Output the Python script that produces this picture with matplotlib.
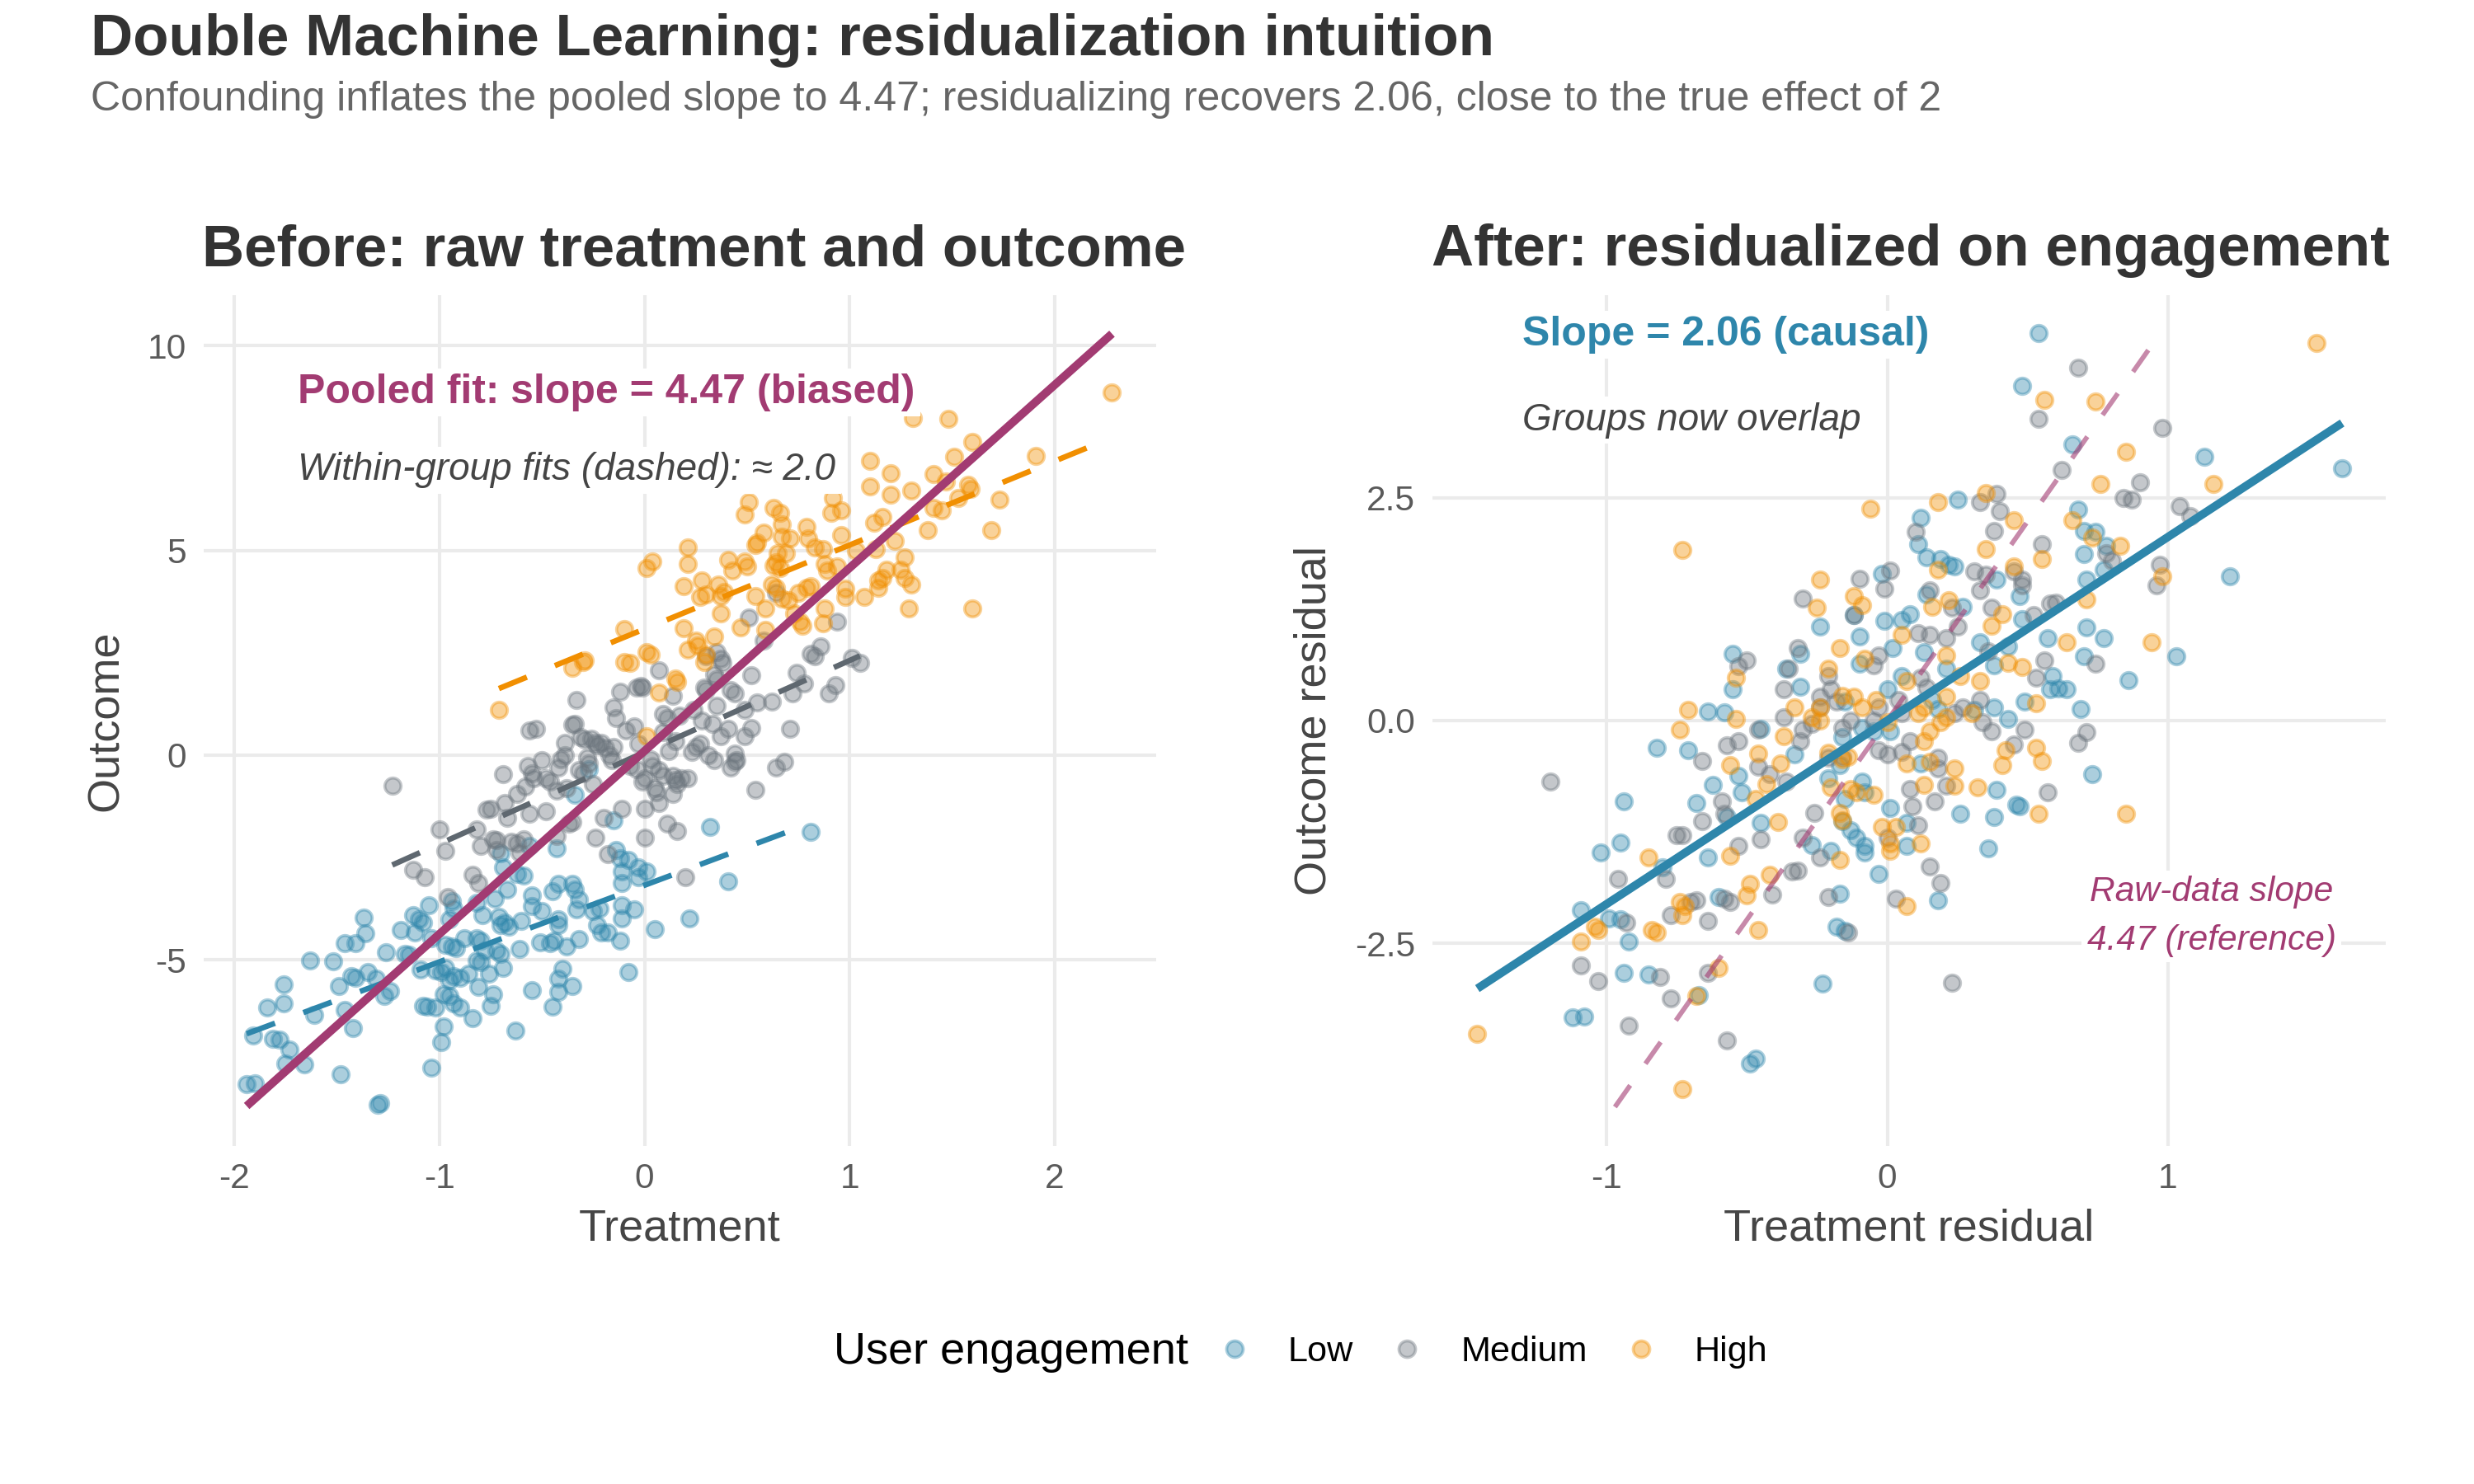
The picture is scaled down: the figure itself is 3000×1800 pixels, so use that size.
import numpy as np
import matplotlib
matplotlib.use("Agg")
import matplotlib.pyplot as plt
from matplotlib.lines import Line2D

plt.rcParams['font.family'] = ['Liberation Sans', 'DejaVu Sans']

# colours
col_low = '#2E86AB'
col_med = '#6C757D'
col_high = '#F18F01'
col_pool = '#A23B72'

groups = ['Low', 'Medium', 'High']

# ---- raw data (treatment, outcome) ----
low_raw = [(-1.94, -8.03), (-1.90, -8.01), (-1.91, -6.84), (-1.81, -6.93), (-1.78, -6.95), (-1.73, -7.20),
           (-1.75, -7.53), (-1.66, -7.55), (-1.84, -6.16), (-1.76, -6.06), (-1.76, -5.61), (-1.63, -5.02),
           (-1.52, -5.04), (-1.61, -6.34), (-1.46, -4.60), (-1.41, -4.60), (-1.37, -3.96), (-1.36, -4.35),
           (-1.49, -5.64), (-1.43, -5.40), (-1.41, -5.44), (-1.35, -5.30), (-1.31, -5.46), (-1.46, -6.23),
           (-1.42, -6.66), (-1.48, -7.79), (-1.30, -8.55), (-1.29, -8.50), (-1.27, -5.89), (-1.24, -5.76),
           (-1.26, -4.81), (-1.19, -4.28), (-1.17, -4.85), (-1.15, -4.88), (-1.12, -4.33), (-1.13, -3.91),
           (-1.10, -4.02), (-1.08, -4.09), (-1.05, -3.66), (-1.04, -4.47), (-1.09, -5.23), (-1.08, -6.13),
           (-1.06, -6.15), (-1.02, -6.16), (-0.98, -6.63), (-0.99, -7.02), (-1.04, -7.64), (-0.94, -3.57),
           (-0.93, -3.74), (-0.95, -4.02), (-0.97, -4.64), (-0.94, -4.67), (-0.92, -4.71), (-0.88, -4.47),
           (-1.02, -5.26), (-0.99, -5.30), (-0.97, -5.19), (-0.95, -5.50), (-0.93, -5.40), (-0.90, -5.44),
           (-0.98, -5.85), (-0.95, -5.89), (-0.93, -6.06), (-0.90, -6.16), (-0.86, -5.33), (-0.84, -6.42),
           (-0.82, -3.60), (-0.79, -3.91), (-0.82, -4.47), (-0.80, -4.54), (-0.82, -5.02), (-0.80, -5.06),
           (-0.78, -4.78), (-0.81, -5.66), (-0.76, -5.33), (-0.74, -5.85), (-0.75, -6.13), (-0.73, -3.50),
           (-0.71, -3.95), (-0.70, -4.16), (-0.72, -4.78), (-0.70, -4.85), (-0.69, -5.19), (-0.67, -3.29),
           (-0.68, -4.09), (-0.66, -4.19), (-0.61, -4.74), (-0.60, -4.05), (-0.63, -6.72), (-0.70, -2.39),
           (-0.69, -2.74), (-0.62, -2.91), (-0.59, -2.94), (-0.56, -2.22), (-0.55, -3.43), (-0.55, -3.68),
           (-0.50, -3.81), (-0.51, -4.57), (-0.46, -4.60), (-0.44, -4.54), (-0.43, -2.27), (-0.45, -3.32),
           (-0.42, -3.15), (-0.38, -4.67), (-0.42, -4.02), (-0.42, -4.16), (-0.35, -3.15), (-0.34, -3.29),
           (-0.32, -3.53), (-0.33, -3.77), (-0.32, -4.50), (-0.40, -5.21), (-0.42, -5.47), (-0.35, -5.64),
           (-0.42, -5.78), (-0.55, -5.75), (-0.45, -6.15), (-0.34, -0.97), (-0.27, -0.35), (-0.25, -3.81),
           (-0.22, -3.74), (-0.23, -4.16), (-0.21, -4.33), (-0.18, -4.33), (-0.12, -4.54), (-0.14, -2.32),
           (-0.15, -1.59), (-0.12, -2.53), (-0.08, -2.56), (-0.11, -2.84), (-0.11, -3.12), (-0.03, -2.74),
           (0.01, -2.84), (-0.03, -2.98), (-0.11, -3.67), (-0.11, -3.98), (-0.05, -3.77), (-0.08, -5.30),
           (0.05, -4.25), (0.22, -4.00), (0.32, -1.75), (0.41, -3.08), (0.81, -1.88)]

med_raw = [(-1.23, -0.75), (-1.13, -2.80), (-1.07, -2.98), (-1.00, -1.81), (-0.97, -2.33), (-0.96, -3.46),
           (-0.84, -2.92), (-0.81, -3.12), (-0.82, -1.81), (-0.80, -2.21), (-0.77, -1.34), (-0.75, -1.31),
           (-0.74, -2.05), (-0.72, -2.08), (-0.68, -1.17), (-0.69, -0.47), (-0.67, -1.54), (-0.72, -2.32),
           (-0.65, -2.11), (-0.62, -2.15), (-0.59, -2.05), (-0.61, -2.38), (-0.62, -0.94), (-0.58, -0.77),
           (-0.57, -0.27), (-0.55, -0.44), (-0.54, -0.57), (-0.56, 0.60), (-0.53, 0.64), (-0.56, -1.44),
           (-0.50, -0.13), (-0.48, -1.38), (-0.48, -0.57), (-0.46, -0.64), (-0.43, -0.87), (-0.43, -1.98),
           (-0.41, -0.10), (-0.39, 0.00), (-0.39, 0.30), (-0.42, -0.30), (-0.35, 0.74), (-0.34, 0.77),
           (-0.38, -0.81), (-0.37, -1.68), (-0.35, -1.64), (-0.33, 1.34), (-0.31, 0.44), (-0.29, 0.37),
           (-0.32, -0.37), (-0.30, -0.44), (-0.28, -0.07), (-0.27, -0.20), (-0.26, 0.40), (-0.24, 0.30),
           (-0.23, 0.23), (-0.21, 0.30), (-0.19, 0.17), (-0.25, -0.70), (-0.24, -2.01), (-0.20, -1.54),
           (-0.18, -2.42), (-0.17, 0.00), (-0.16, -0.13), (-0.15, 1.17), (-0.14, 0.91), (-0.15, 0.20),
           (-0.12, 1.54), (-0.11, -1.31), (-0.09, 0.60), (-0.05, 0.70), (-0.04, 1.64), (-0.02, 1.68),
           (-0.01, 1.64), (-0.07, -0.27), (-0.04, -0.34), (-0.03, 0.27), (-0.01, -0.64), (0.00, -0.57),
           (0.00, -1.31), (0.00, -2.01), (0.03, -0.10), (0.04, -0.27), (0.05, -0.81), (0.06, -0.91),
           (0.07, -1.17), (0.07, -0.37), (0.09, -0.50), (0.07, 2.08), (0.09, 1.00), (0.11, 0.91),
           (0.09, 0.57), (0.11, -1.68), (0.16, -1.85), (0.12, 0.10), (0.14, -0.50), (0.15, -0.60),
           (0.14, -0.94), (0.16, -0.70), (0.17, 0.97), (0.14, 1.44), (0.15, 0.34), (0.18, -0.57),
           (0.21, -0.57), (0.20, -2.99), (0.23, 0.07), (0.25, 0.20), (0.27, 0.27), (0.24, 1.11),
           (0.28, 0.84), (0.29, 1.64), (0.30, 1.58), (0.30, 2.42), (0.31, 0.00), (0.34, -0.13),
           (0.33, 0.77), (0.34, 1.98), (0.35, 1.85), (0.35, 2.52), (0.37, 2.35), (0.37, 0.47),
           (0.35, 1.21), (0.38, 2.25), (0.41, 0.64), (0.42, -0.30), (0.44, -0.17), (0.45, -0.13),
           (0.42, 1.58), (0.44, 1.51), (0.44, 0.03), (0.49, 1.11), (0.49, 0.47), (0.51, 3.36),
           (0.52, 0.67), (0.52, 1.95), (0.54, -0.84), (0.55, 1.28), (0.58, 2.79), (0.62, 1.31),
           (0.64, 3.96), (0.64, -0.30), (0.68, -0.17), (0.71, 0.64), (0.72, 1.51), (0.74, 2.01),
           (0.78, 1.74), (0.81, 2.48), (0.83, 2.42), (0.86, 2.65), (0.90, 1.51), (0.93, 1.71),
           (0.94, 3.26), (1.01, 2.38), (1.05, 2.25)]

high_raw = [(-0.71, 1.11), (-0.35, 2.13), (-0.30, 2.28), (-0.29, 2.32), (-0.10, 3.07), (-0.10, 2.28),
            (-0.07, 2.25), (0.01, 4.56), (0.04, 4.73), (0.01, 2.52), (0.03, 2.45), (0.07, 1.52),
            (0.15, 1.88), (0.16, 1.78), (0.01, 0.47), (0.19, 3.09), (0.19, 4.13), (0.21, 4.66),
            (0.21, 5.08), (0.21, 2.58), (0.25, 2.79), (0.26, 2.68), (0.28, 4.26), (0.29, 2.28),
            (0.30, 2.45), (0.27, 3.86), (0.30, 3.93), (0.34, 2.89), (0.36, 4.16), (0.39, 3.99),
            (0.37, 3.89), (0.37, 3.47), (0.41, 4.77), (0.43, 4.50), (0.47, 3.12), (0.49, 4.73),
            (0.50, 4.60), (0.49, 5.87), (0.51, 6.17), (0.54, 5.13), (0.55, 5.20), (0.54, 3.89),
            (0.58, 5.44), (0.59, 3.59), (0.59, 3.05), (0.63, 6.04), (0.66, 5.91), (0.63, 4.63),
            (0.64, 4.70), (0.66, 4.56), (0.67, 5.64), (0.67, 5.34), (0.65, 4.93), (0.71, 5.30),
            (0.69, 4.93), (0.62, 4.16), (0.64, 4.09), (0.67, 3.83), (0.70, 3.79), (0.73, 3.46),
            (0.76, 3.26), (0.77, 3.15), (0.75, 3.96), (0.79, 4.09), (0.81, 4.13), (0.79, 5.57),
            (0.80, 5.30), (0.83, 5.07), (0.87, 5.03), (0.88, 4.66), (0.89, 4.50), (0.88, 3.59),
            (0.87, 3.22), (0.91, 5.91), (0.96, 5.97), (0.96, 5.37), (0.92, 6.28), (0.94, 4.60),
            (0.98, 4.06), (0.98, 3.86), (1.07, 3.86), (1.03, 5.00), (1.12, 5.67), (1.16, 5.81),
            (1.13, 5.03), (1.18, 4.53), (1.16, 4.33), (1.14, 4.26), (1.14, 4.09), (1.22, 5.23),
            (1.25, 4.53), (1.27, 4.33), (1.30, 4.16), (1.27, 4.83), (1.29, 3.59), (1.38, 5.50),
            (1.41, 6.04), (1.45, 5.97), (1.53, 6.28), (1.60, 3.59), (1.69, 5.50), (1.31, 8.23),
            (1.48, 8.21), (1.60, 7.64), (2.28, 8.86), (1.10, 7.19), (1.20, 6.89), (1.10, 6.57),
            (1.20, 6.36), (1.30, 6.46), (1.41, 6.87), (1.51, 7.28), (1.47, 6.69), (1.58, 6.61),
            (1.59, 6.50), (1.91, 7.30), (1.73, 6.24)]

# ---- residualised data (treatment residual, outcome residual) ----
low_res = [(0.54, 4.35), (0.48, 3.75), (0.66, 3.10), (1.13, 2.96), (1.62, 2.83), (0.25, 2.48), (0.68, 2.37),
           (0.12, 2.27), (0.70, 2.13), (0.74, 2.12), (0.78, 1.96), (0.70, 1.87), (0.11, 1.98), (0.14, 1.83),
           (0.19, 1.81), (0.22, 1.75), (0.24, 1.73), (1.22, 1.62), (0.71, 1.58), (0.77, 1.69), (-0.02, 1.65),
           (0.39, 1.58), (0.47, 1.40), (0.14, 1.41), (0.27, 1.28), (0.48, 1.14), (0.08, 1.19), (0.05, 1.13),
           (-0.01, 1.12), (-0.12, 1.18), (-0.24, 1.05), (0.71, 1.04), (0.77, 0.92), (0.57, 0.92), (0.33, 0.88),
           (0.43, 0.83), (0.13, 0.77), (0.02, 0.81), (-0.10, 0.94), (-0.10, 0.64), (-0.31, 0.75), (-0.55, 0.75),
           (-0.36, 0.58), (0.21, 0.58), (0.38, 0.62), (0.70, 0.72), (1.03, 0.72), (0.59, 0.50), (0.58, 0.35),
           (0.61, 0.36), (0.64, 0.35), (0.86, 0.45), (-0.55, 0.35), (-0.31, 0.38), (0.16, 0.23), (0.18, 0.13),
           (0.05, 0.50), (0.00, 0.35), (-0.15, 0.21), (0.69, 0.13), (0.49, 0.21), (0.38, 0.15), (0.31, 0.12),
           (-0.64, 0.10), (-0.58, 0.09), (-0.45, -0.09), (-0.82, -0.31), (-0.71, -0.33), (0.43, 0.02),
           (-0.09, -0.08), (-0.05, -0.12), (0.01, -0.12), (-0.33, -0.38), (-0.16, -0.19), (0.12, -0.48),
           (0.73, -0.60), (0.39, -0.78), (0.46, -0.94), (0.47, -0.96), (0.26, -1.05), (0.38, -1.08),
           (-0.17, -0.50), (-0.21, -0.65), (-0.09, -0.69), (-0.08, -0.81), (-0.15, -0.88), (-0.53, -0.62),
           (-0.62, -0.72), (-0.52, -0.81), (-0.68, -0.93), (-0.94, -0.91), (-0.57, -1.08), (-0.45, -1.15),
           (-0.16, -1.13), (-0.13, -1.23), (-0.11, -1.31), (-0.08, -1.41), (-0.08, -1.48), (0.01, -0.98),
           (0.07, -1.15), (0.07, -1.41), (-0.27, -1.40), (-0.20, -1.46), (-0.95, -1.37), (-1.02, -1.48),
           (-0.64, -1.54), (-0.80, -1.65), (-0.03, -1.72), (-0.60, -1.98), (-0.17, -1.94), (0.18, -2.02),
           (0.36, -1.43), (-1.09, -2.13), (-0.99, -2.22), (-0.95, -2.23), (-0.18, -2.31), (-0.15, -2.36),
           (-0.92, -2.48), (-0.94, -2.83), (-0.85, -2.85), (-0.23, -2.95), (-0.67, -3.08), (-1.12, -3.33),
           (-1.08, -3.32), (-0.49, -3.85), (-0.47, -3.79)]

med_res = [(0.68, 3.96), (0.54, 3.38), (0.98, 3.28), (0.62, 2.81), (0.90, 2.67), (0.39, 2.54), (0.84, 2.50),
           (0.87, 2.48), (0.33, 2.45), (0.40, 2.35), (1.04, 2.40), (1.08, 2.29), (0.10, 2.12), (0.38, 2.13),
           (0.55, 1.98), (0.78, 1.88), (0.80, 1.79), (0.97, 1.75), (0.45, 1.67), (0.48, 1.58), (0.48, 1.52),
           (0.96, 1.52), (0.01, 1.68), (-0.10, 1.59), (-0.01, 1.48), (-0.30, 1.37), (0.31, 1.67), (0.35, 1.64),
           (0.15, 1.46), (0.33, 1.46), (0.58, 1.31), (0.60, 1.32), (0.52, 1.18), (-0.12, 1.18), (0.23, 1.27),
           (0.37, 1.27), (0.11, 0.98), (0.15, 0.96), (0.21, 0.92), (0.25, 1.05), (0.36, 0.78), (-0.03, 0.73),
           (-0.05, 0.62), (-0.50, 0.67), (-0.53, 0.61), (-0.37, 0.35), (-0.35, 0.58), (-0.32, 0.81),
           (-0.21, 0.50), (-0.20, 0.35), (-0.18, 0.21), (-0.24, 0.27), (-0.24, 0.15), (0.74, 0.64), (0.56, 0.67),
           (0.53, 0.48), (0.24, 0.08), (0.27, 0.15), (0.33, 0.23), (0.12, 0.48), (0.14, 0.37), (0.04, 0.23),
           (0.05, 0.08), (-0.03, 0.15), (-0.05, 0.00), (-0.13, 0.00), (-0.16, -0.08), (-0.37, 0.04),
           (-0.46, -0.10), (-0.53, -0.23), (-0.30, -0.10), (-0.27, -0.04), (-0.31, -0.23), (0.34, -0.02),
           (0.37, -0.12), (0.49, -0.10), (0.45, -0.27), (0.71, -0.13), (0.68, -0.25), (-0.66, -0.45),
           (-0.57, -0.28), (-0.46, -0.52), (-0.42, -0.60), (-0.36, -0.69), (-0.21, -0.42), (-0.16, -0.41),
           (-0.03, -0.33), (0.00, -0.38), (0.05, -0.35), (0.08, -0.23), (0.18, -0.42), (0.18, -0.54),
           (0.21, -0.73), (0.17, -0.91), (0.08, -0.77), (0.09, -0.96), (0.00, -1.31), (0.57, -0.81),
           (-0.59, -0.91), (-0.58, -1.05), (-0.66, -1.13), (-0.73, -1.29), (-0.75, -1.29), (-0.45, -1.33),
           (-0.53, -1.41), (-0.26, -1.04), (-0.30, -1.31), (-0.32, -1.68), (-0.34, -1.69), (-0.24, -1.54),
           (0.11, -1.18), (0.15, -1.64), (0.19, -1.82), (0.03, -2.00), (-0.21, -1.98), (-0.14, -2.38),
           (-0.79, -1.78), (-0.96, -1.78), (-0.77, -2.18), (-0.70, -2.04), (-0.68, -2.02), (-0.64, -2.25),
           (-0.58, -2.00), (-0.56, -2.04), (-0.41, -1.95), (-0.93, -2.27), (-1.09, -2.75), (-1.03, -2.92),
           (-0.81, -2.88), (-0.77, -3.12), (-0.92, -3.42), (-0.64, -2.83), (-0.57, -3.59), (0.23, -2.94),
           (-1.20, -0.69)]

high_res = [(1.53, 4.24), (0.56, 3.60), (0.74, 3.58), (0.85, 3.01), (0.76, 2.65), (1.16, 2.65), (0.35, 2.55),
            (0.18, 2.45), (-0.06, 2.38), (0.45, 2.25), (0.66, 2.25), (0.73, 2.05), (-0.73, 1.91), (0.35, 1.92),
            (0.83, 1.96), (0.55, 1.81), (0.45, 1.73), (0.18, 1.69), (0.98, 1.62), (-0.24, 1.58), (-0.12, 1.40),
            (-0.09, 1.29), (-0.25, 1.27), (0.22, 1.35), (0.16, 1.28), (0.71, 1.36), (0.37, 1.06), (0.41, 1.19),
            (0.05, 0.96), (-0.17, 0.81), (0.94, 0.88), (0.64, 0.88), (0.21, 0.73), (-0.08, 0.69), (-0.21, 0.58),
            (0.48, 0.60), (0.43, 0.65), (0.26, 0.50), (0.33, 0.44), (0.07, 0.44), (-0.54, 0.48), (-0.24, 0.15),
            (-0.27, 0.04), (-0.24, 0.00), (-0.33, 0.15), (-0.16, 0.28), (-0.12, 0.27), (-0.09, 0.15),
            (-0.04, 0.23), (0.11, 0.08), (0.13, 0.15), (0.21, 0.27), (0.30, 0.08), (0.53, 0.19), (-0.71, 0.12),
            (-0.74, -0.10), (-0.54, 0.02), (0.19, -0.02), (0.21, 0.04), (0.15, -0.12), (0.13, -0.23),
            (-0.37, -0.18), (0.00, -0.02), (0.42, -0.33), (0.41, -0.50), (0.53, -0.31), (0.55, -0.45),
            (-0.16, -0.44), (-0.14, -0.41), (-0.21, -0.36), (0.07, -0.48), (0.15, -0.46), (0.24, -0.54),
            (-0.56, -0.50), (-0.46, -0.37), (-0.38, -0.48), (-0.43, -0.71), (-0.47, -0.88), (0.13, -0.72),
            (0.24, -0.73), (0.32, -0.75), (-0.05, -0.83), (-0.11, -0.81), (-0.13, -0.77), (-0.20, -0.75),
            (0.54, -1.05), (0.85, -1.05), (-0.17, -1.04), (-0.16, -1.12), (-0.39, -1.14), (-0.02, -1.19),
            (0.03, -1.19), (0.01, -1.46), (0.01, -1.38), (0.12, -1.38), (-0.17, -1.56), (-0.56, -1.52),
            (-0.85, -1.54), (-0.49, -1.83), (-0.50, -1.96), (0.07, -2.08), (-0.42, -1.73), (-0.74, -2.04),
            (-0.72, -2.08), (-0.73, -2.18), (-1.04, -2.31), (-1.03, -2.35), (-1.09, -2.48), (-0.84, -2.35),
            (-0.82, -2.38), (-0.46, -2.35), (-0.60, -2.78), (-0.68, -3.09), (-1.46, -3.52), (-0.73, -4.14)]

# fitted lines (intercept, slope) as labelled /
pooled_fit = (0.10, 4.47)
group_fits = {'Low': (-3.18, 1.87), 'Medium': (0.07, 2.24), 'High': (3.08, 2.05)}
causal_fit = (0.0, 2.06)
ref_slope = 4.47
ref_x = [-0.97, 0.97]

raw = {'Low': np.array(low_raw), 'Medium': np.array(med_raw), 'High': np.array(high_raw)}
res = {'Low': np.array(low_res), 'Medium': np.array(med_res), 'High': np.array(high_res)}
colors = {'Low': col_low, 'Medium': col_med, 'High': col_high}
dash_colors = {'Low': '#2E86AB', 'Medium': '#5F6870', 'High': '#F18F01'}

fig = plt.figure(figsize=(10, 6), dpi=300)
ax1 = fig.add_axes([0.0823, 0.228, 0.385, 0.573])
ax2 = fig.add_axes([0.579, 0.228, 0.3853, 0.573])


def style_axis(ax):
    for s in ax.spines.values():
        s.set_visible(False)
    ax.grid(True, color='#EBEBEB', linewidth=1.0)
    ax.set_axisbelow(True)
    ax.tick_params(length=0, labelsize=10.2, labelcolor='#5a5a5a', pad=5)


pt_kw = dict(s=22, alpha=0.4, linewidths=0.9)

# left panel
style_axis(ax1)
for g in groups:
    d = raw[g]
    ax1.scatter(d[:, 0], d[:, 1], color=colors[g], edgecolors=colors[g], zorder=2, **pt_kw)
for g in groups:
    d = raw[g]
    xs = np.array([d[:, 0].min(), d[:, 0].max()])
    b0, b1 = group_fits[g]
    ax1.plot(xs, b0 + b1 * xs, color=dash_colors[g], lw=1.6, dashes=(5.5, 5.5), zorder=3)
all_t = np.concatenate([raw[g][:, 0] for g in groups])
xs = np.array([all_t.min(), all_t.max()])
ax1.plot(xs, pooled_fit[0] + pooled_fit[1] * xs, color=col_pool, lw=2.4, zorder=4,
         solid_capstyle='butt')

ax1.set_xlim(-2.15, 2.495)
ax1.set_ylim(-9.54, 11.23)
ax1.set_xticks([-2, -1, 0, 1, 2])
ax1.set_xticklabels(['-2', '-1', '0', '1', '2'])
ax1.set_yticks([-5, 0, 5, 10])
ax1.set_yticklabels(['-5', '0', '5', '10'])
ax1.set_xlabel('Treatment', fontsize=13, color='#454545', labelpad=3.5)
ax1.set_ylabel('Outcome', fontsize=13, color='#454545', labelpad=6)

box = dict(facecolor='white', edgecolor='none', pad=1.5)
ax1.text(-1.69, 8.85, 'Pooled fit: slope = 4.47 (biased)', color=col_pool, fontsize=12,
         fontweight='bold', ha='left', va='center', bbox=box, zorder=5)
ax1.text(-1.69, 6.96, 'Within-group fits (dashed): \u2248 2.0', color='#454545', fontsize=11,
         fontstyle='italic', ha='left', va='center', bbox=box, zorder=5)

# right panel
style_axis(ax2)
for g in groups:
    d = res[g]
    ax2.scatter(d[:, 0], d[:, 1], color=colors[g], edgecolors=colors[g], zorder=2, **pt_kw)
rx = np.array(ref_x)
ax2.plot(rx, ref_slope * rx, color=col_pool, alpha=0.6, lw=1.4, dashes=(5.5, 5.5), zorder=3)
all_r = np.concatenate([res[g][:, 0] for g in groups])
xs = np.array([all_r.min(), all_r.max()])
ax2.plot(xs, causal_fit[0] + causal_fit[1] * xs, color=col_low, lw=2.4, zorder=4,
         solid_capstyle='butt')

ax2.set_xlim(-1.62, 1.775)
ax2.set_ylim(-4.77, 4.77)
ax2.set_xticks([-1, 0, 1])
ax2.set_xticklabels(['-1', '0', '1'])
ax2.set_yticks([-2.5, 0, 2.5])
ax2.set_yticklabels(['-2.5', '0.0', '2.5'])
ax2.set_xlabel('Treatment residual', fontsize=13, color='#454545', labelpad=3.5)
ax2.set_ylabel('Outcome residual', fontsize=13, color='#454545', labelpad=6)

ax2.text(-1.30, 4.33, 'Slope = 2.06 (causal)', color=col_low, fontsize=12,
         fontweight='bold', ha='left', va='center', bbox=box, zorder=5)
ax2.text(-1.30, 3.37, 'Groups now overlap', color='#454545', fontsize=11,
         fontstyle='italic', ha='left', va='center', bbox=box, zorder=5)
ax2.text(1.155, -2.2, 'Raw-data slope\n4.47 (reference)', color=col_pool, fontsize=10.2,
         fontstyle='italic', ha='center', va='center', linespacing=1.6, bbox=box, zorder=5)

# titles
fig.text(0.0365, 0.973, 'Double Machine Learning: residualization intuition', fontsize=17,
         fontweight='bold', color='#333333', ha='left', va='center')
fig.text(0.0365, 0.933, 'Confounding inflates the pooled slope to 4.47; residualizing recovers 2.06, '
         'close to the true effect of 2', fontsize=12, color='#666666', ha='left', va='center')
fig.text(0.2805, 0.831, 'Before: raw treatment and outcome', fontsize=17, fontweight='bold',
         color='#333333', ha='center', va='center')
fig.text(0.7722, 0.831, 'After: residualized on engagement', fontsize=17, fontweight='bold',
         color='#333333', ha='center', va='center')

# legend
fig.text(0.337, 0.089, 'User engagement', fontsize=13, color='black', ha='left', va='center')
handles = [Line2D([0], [0], marker='o', linestyle='none', markersize=4.8,
                  markerfacecolor=colors[g], markeredgecolor=colors[g], alpha=0.4,
                  markeredgewidth=0.9) for g in groups]
fig.legend(handles, groups, loc='center left', bbox_to_anchor=(0.4816, 0.089), ncol=3,
           frameon=False, fontsize=10.4, handletextpad=1.0, columnspacing=1.0,
           handlelength=1.0, borderpad=0.2)

fig.savefig('out.png', dpi=300, facecolor='white')
